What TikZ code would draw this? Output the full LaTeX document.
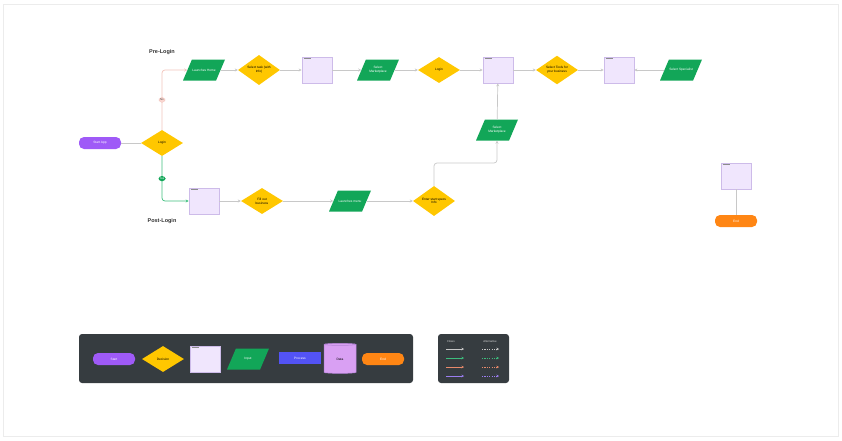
\documentclass[tikz,border=0pt]{standalone}
\usepackage{fontspec}
\setmainfont{Liberation Sans}
\usetikzlibrary{shapes.geometric,arrows.meta}
\definecolor{cstart}{RGB}{159,90,247}
\definecolor{cyellow}{RGB}{255,199,0}
\definecolor{cgreen}{RGB}{18,166,88}
\definecolor{cpagefill}{RGB}{240,230,253}
\definecolor{cpageborder}{RGB}{205,187,233}
\definecolor{corange}{RGB}{255,134,20}
\definecolor{cdark}{RGB}{54,60,64}
\definecolor{cblue}{RGB}{83,83,245}
\definecolor{cdata}{RGB}{217,160,243}
\definecolor{cdataborder}{RGB}{180,130,215}
\definecolor{cline}{RGB}{200,200,200}
\definecolor{cno}{RGB}{242,196,188}
\definecolor{cnofill}{RGB}{250,214,208}
\definecolor{cyes}{RGB}{61,189,125}
\definecolor{cframe}{RGB}{236,236,236}
\definecolor{corangeline}{RGB}{232,138,107}
\definecolor{cpurpleline}{RGB}{155,126,240}
\begin{document}
\begin{tikzpicture}[x=1pt,y=-1pt,
  tiny/.style={font=\fontsize{3.2}{3.8}\selectfont, align=center},
  startbox/.style={rectangle, rounded corners=5pt, fill=cstart, text=white, minimum width=42pt, minimum height=12pt, inner sep=0pt, tiny},
  endbox/.style={rectangle, rounded corners=5pt, fill=corange, text=white, minimum width=42pt, minimum height=12pt, inner sep=0pt, tiny},
  decision/.style={diamond, fill=cyellow, minimum width=42pt, minimum height=26pt, inner sep=0pt, tiny},
  inputbox/.style={trapezium, trapezium left angle=67, trapezium right angle=113, trapezium stretches body=true, fill=cgreen, inner xsep=0pt, inner ysep=10.5pt, minimum width=42pt,
    label={[tiny, text=white, inner sep=0pt]center:#1}},
  pagebox/.style={rectangle, fill=cpagefill, draw=cpageborder, line width=0.6pt, minimum width=30pt, minimum height=26pt, inner sep=0pt,
    path picture={\draw[black!45, line width=0.5pt] ([shift={(1.5,1.5)}]path picture bounding box.north west) -- ++(7,0);}},
  processbox/.style={rectangle, fill=cblue, text=white, minimum width=42pt, minimum height=12pt, inner sep=0pt, tiny},
  databox/.style={cylinder, shape border rotate=90, shape aspect=0.3, fill=cdata, draw=cdataborder, line width=0.5pt, minimum width=32pt, minimum height=30pt, inner sep=0pt, tiny},
  flow/.style={draw=cline, line width=0.7pt, rounded corners=3pt, -{Stealth[length=3pt,width=3pt]}},
  plain/.style={draw=cline, line width=0.7pt},
  nolabel/.style={fill=cnofill, draw=cno, line width=0.3pt, text=black!70, inner sep=0pt, minimum width=6pt, minimum height=5pt, font=\fontsize{2.8}{3}\selectfont},
  yeslabel/.style={fill=cgreen, text=white, inner sep=0pt, minimum width=7pt, minimum height=5pt, font=\fontsize{2.8}{3}\selectfont},
  section/.style={font=\fontsize{5.5}{6}\selectfont\bfseries, text=black!80},
  legendpanel/.style={fill=cdark, rounded corners=3pt},
  legendhead/.style={font=\fontsize{2.8}{3.2}\selectfont, text=white!85!black}
]
\useasboundingbox (0,0) rectangle (842,440);
\draw[cframe, line width=0.6pt] (3,4) rectangle (838,436);

% section labels
\node[section] (pre) at (162,52) {Pre-Login};
\node[section] (post) at (162,221) {Post-Login};

% start & login
\node[startbox] (start) at (100,143) {Start App};
\node[decision] (login) at (162,143) {Login};

% top row
\node[inputbox={Launches Home}] (launch) at (204,70) {};
\node[decision] (task) at (259,70) {Select task (with\\Info)};
\node[pagebox] (pa) at (317,70) {};
\node[inputbox={Select\\Marketplace}] (market) at (378,70) {};
\node[decision] (login2) at (439,70) {Login};
\node[pagebox] (pb) at (498,70) {};
\node[decision] (tools) at (557,70) {Select Tools for\\your business};
\node[pagebox] (pc) at (619,70) {};
\node[inputbox={Select Specialist}] (spec) at (681,70) {};

\node[inputbox={Select\\Marketplace}] (market2) at (497,130) {};

% bottom row
\node[pagebox] (pd) at (204,201) {};
\node[decision] (fill) at (262,201) {Fill out\\business};
\node[inputbox={Launches menu}] (menu) at (350,201) {};
\node[decision] (enter) at (434,201) {Enter start specs\\Info};

% right
\node[pagebox] (pe) at (736,176) {};
\node[endbox] (endn) at (736,221) {End};

% connectors
\draw[plain] (start) -- (login);
\draw[flow, draw=cno] (login.north) |- (launch.west) node[nolabel, pos=0.25] {No};
\draw[flow, draw=cyes] (login.south) |- (pd.west) node[yeslabel, pos=0.25] {Yes};
\draw[flow] (launch) -- (task);
\draw[flow] (task) -- (pa);
\draw[flow] (pa) -- (market);
\draw[flow] (market) -- (login2);
\draw[flow] (login2) -- (pb);
\draw[flow] (pb) -- (tools);
\draw[flow] (tools) -- (pc);
\draw[flow] (spec) -- (pc);
\draw[flow] (market2) -- (pb);
\coordinate (bend) at (497,163);
\draw[flow] (enter.north) |- (bend) -- (market2.south);
\draw[flow] (pd) -- (fill);
\draw[flow] (fill) -- (menu);
\draw[flow] (menu) -- (enter);
\draw[plain] (pe) -- (endn);

% legend 1
\fill[legendpanel] (79,334) rectangle (413,383);
\node[startbox] (lstart) at (114,359) {Start};
\node[decision] (ldec) at (163,359) {Decision};
\node[pagebox] (lpage) at (205,359) {};
\node[inputbox={Input}] (linput) at (248,359) {};
\node[processbox] (lproc) at (300,358) {Process};
\node[databox] (ldata) at (340,359) {Data};
\node[endbox] (lend) at (383,359) {End};

% legend 2
\fill[legendpanel] (438,334) rectangle (509,383);
\node[legendhead] (hflow) at (451,341) {Flows};
\node[legendhead] (halt) at (490,341) {Alternative};
\foreach \yy/\cc [count=\i] in {349/cline,358/cyes,367/corangeline,376/cpurpleline}{
  \coordinate (fa\i) at (446,\yy);
  \coordinate (fb\i) at (464,\yy);
  \coordinate (ga\i) at (482,\yy);
  \coordinate (gb\i) at (499,\yy);
  \draw[draw=\cc, line width=0.6pt, -{Stealth[length=2.5pt,width=2.5pt]}] (fa\i) -- (fb\i);
  \draw[draw=\cc, line width=0.6pt, dashed, dash pattern=on 1.2pt off 1.2pt, -{Stealth[length=2.5pt,width=2.5pt]}] (ga\i) -- (gb\i);
}
\end{tikzpicture}
\end{document}
